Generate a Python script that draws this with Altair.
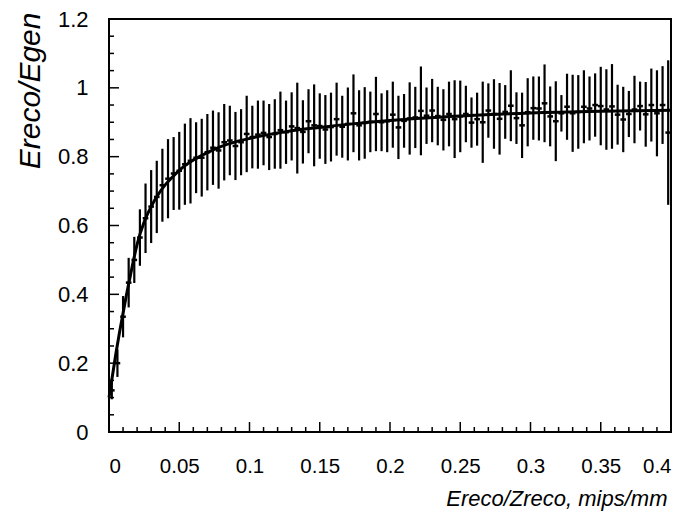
import altair as alt
import pandas as pd

# ---- data ----
BIN_W = 0.004
x_centers = [round(0.002 + BIN_W * i, 3) for i in range(100)]

y_vals = [
    0.121, 0.200, 0.335, 0.434, 0.500, 0.565, 0.621, 0.655, 0.683, 0.717,
    0.736, 0.751, 0.759, 0.778, 0.788, 0.797, 0.797, 0.813, 0.826, 0.818,
    0.842, 0.847, 0.831, 0.842, 0.866, 0.857, 0.864, 0.869, 0.857, 0.866,
    0.877, 0.871, 0.888, 0.883, 0.872, 0.903, 0.891, 0.889, 0.879, 0.886,
    0.909, 0.887, 0.895, 0.926, 0.891, 0.898, 0.901, 0.924, 0.900, 0.903,
    0.922, 0.885, 0.904, 0.911, 0.914, 0.933, 0.919, 0.934, 0.918, 0.907,
    0.924, 0.909, 0.917, 0.924, 0.899, 0.909, 0.900, 0.934, 0.924, 0.910,
    0.930, 0.948, 0.912, 0.891, 0.929, 0.941, 0.940, 0.955, 0.917, 0.903,
    0.926, 0.945, 0.926, 0.930, 0.945, 0.940, 0.950, 0.947, 0.937, 0.946,
    0.922, 0.908, 0.924, 0.937, 0.947, 0.923, 0.950, 0.926, 0.950, 0.870,
]
y_errs = [
    0.026, 0.040, 0.060, 0.072, 0.067, 0.082, 0.101, 0.106, 0.105, 0.106,
    0.115, 0.106, 0.113, 0.118, 0.124, 0.103, 0.113, 0.111, 0.108, 0.111,
    0.111, 0.101, 0.099, 0.096, 0.111, 0.091, 0.099, 0.094, 0.096, 0.101,
    0.112, 0.092, 0.099, 0.132, 0.092, 0.093, 0.119, 0.095, 0.100, 0.100,
    0.106, 0.090, 0.106, 0.113, 0.102, 0.104, 0.088, 0.108, 0.084, 0.090,
    0.096, 0.092, 0.078, 0.105, 0.089, 0.129, 0.082, 0.092, 0.085, 0.089,
    0.094, 0.113, 0.104, 0.082, 0.073, 0.077, 0.118, 0.079, 0.101, 0.104,
    0.078, 0.103, 0.075, 0.095, 0.099, 0.092, 0.093, 0.113, 0.087, 0.116,
    0.053, 0.096, 0.112, 0.107, 0.106, 0.093, 0.092, 0.114, 0.117, 0.123,
    0.087, 0.095, 0.067, 0.098, 0.071, 0.094, 0.106, 0.125, 0.113, 0.210,
]

fit_x = [0.0, 0.0025, 0.005, 0.0075, 0.01, 0.0125, 0.015, 0.0175, 0.02, 0.025,
         0.03, 0.035, 0.04, 0.045, 0.05, 0.06, 0.07, 0.08, 0.09, 0.1,
         0.125, 0.15, 0.175, 0.2, 0.25, 0.3, 0.35, 0.4]
fit_y = [0.100, 0.165, 0.230, 0.290, 0.345, 0.400, 0.450, 0.500, 0.545, 0.610,
         0.655, 0.690, 0.718, 0.740, 0.760, 0.790, 0.812, 0.830, 0.843, 0.853,
         0.872, 0.885, 0.896, 0.905, 0.918, 0.927, 0.932, 0.935]

x_major = [0, 0.05, 0.1, 0.15, 0.2, 0.25, 0.3, 0.35, 0.4]
x_minor = [0.01, 0.02, 0.03, 0.04, 0.06, 0.07, 0.08, 0.09, 0.11, 0.12, 0.13, 0.14,
           0.16, 0.17, 0.18, 0.19, 0.21, 0.22, 0.23, 0.24, 0.26, 0.27, 0.28, 0.29,
           0.31, 0.32, 0.33, 0.34, 0.36, 0.37, 0.38, 0.39]
y_major = [0, 0.2, 0.4, 0.6, 0.8, 1.0, 1.2]
y_minor = [0.05, 0.1, 0.15, 0.25, 0.3, 0.35, 0.45, 0.5, 0.55, 0.65, 0.7, 0.75,
           0.85, 0.9, 0.95, 1.05, 1.1, 1.15]

# ---- layout / style ----
W, H = 562, 413
FONT = "Liberation Sans"
MAJ_LEN, MIN_LEN = 10, 5

df = pd.DataFrame({"x": x_centers, "y": y_vals, "err": y_errs})
fit_df = pd.DataFrame({"x": fit_x, "y": fit_y})

xs = alt.Scale(domain=[0, 0.4], nice=False, zero=False)
ys = alt.Scale(domain=[0, 1.2], nice=False, zero=False)

x_axis = alt.Axis(values=x_major, format="~g", ticks=False, domain=False, grid=False,
                  labelFont=FONT, labelFontSize=20.5, labelColor="black", labelPadding=24,
                  title="Ereco/Zreco, mips/mm", titleFont=FONT, titleFontSize=22,
                  titleFontStyle="italic", titleFontWeight="normal", titleColor="black",
                  titleAlign="right", titleAnchor="end", titleX=558, titleY=73,
                  titleBaseline="alphabetic")
y_axis = alt.Axis(values=y_major, format="~g", ticks=False, domain=False, grid=False,
                  labelFont=FONT, labelFontSize=22, labelColor="black", labelPadding=21,
                  title="Ereco/Egen", titleFont=FONT, titleFontSize=30,
                  titleFontStyle="italic", titleFontWeight="normal", titleColor="black",
                  titleAngle=270, titleAlign="right", titleX=-70, titleY=-7,
                  titleBaseline="alphabetic")

def X(field):
    return alt.X(field, scale=xs, axis=x_axis)

def Y(field):
    return alt.Y(field, scale=ys, axis=y_axis)

base = alt.Chart(df).transform_calculate(
    lo="datum.y - datum.err", hi="datum.y + datum.err",
    xl=f"datum.x - {BIN_W / 2}", xr=f"datum.x + {BIN_W / 2}")

bars = base.mark_rule(color="black", strokeWidth=2.2).encode(
    x=X("x:Q"), y=Y("lo:Q"), y2="hi:Q")

marks = base.mark_rule(color="black", strokeWidth=2.5).encode(
    x=X("xl:Q"), x2="xr:Q", y=Y("y:Q"))

fit = alt.Chart(fit_df).mark_line(color="black", strokeWidth=3, interpolate="monotone").encode(
    x=X("x:Q"), y=Y("y:Q"))

def xticks(vals, length):
    return alt.Chart(pd.DataFrame({"v": vals})).mark_rule(color="black", strokeWidth=1.5).encode(
        x=X("v:Q"), y=alt.value(H), y2=alt.value(H - length))

def yticks(vals, length):
    return alt.Chart(pd.DataFrame({"v": vals})).mark_rule(color="black", strokeWidth=1.5).encode(
        y=Y("v:Q"), x=alt.value(0), x2=alt.value(length))

chart = alt.layer(
    bars, marks, fit,
    xticks(x_major, MAJ_LEN), xticks(x_minor, MIN_LEN),
    yticks(y_major, MAJ_LEN), yticks(y_minor, MIN_LEN),
).properties(
    width=W, height=H,
    background="white",
    autosize=alt.AutoSizeParams(type="none"),
    padding={"left": 101, "top": 11, "right": 20, "bottom": 80},
).configure_view(stroke="black", strokeWidth=2)

chart.save("out.html", embed_options={"renderer": "svg", "actions": False})
